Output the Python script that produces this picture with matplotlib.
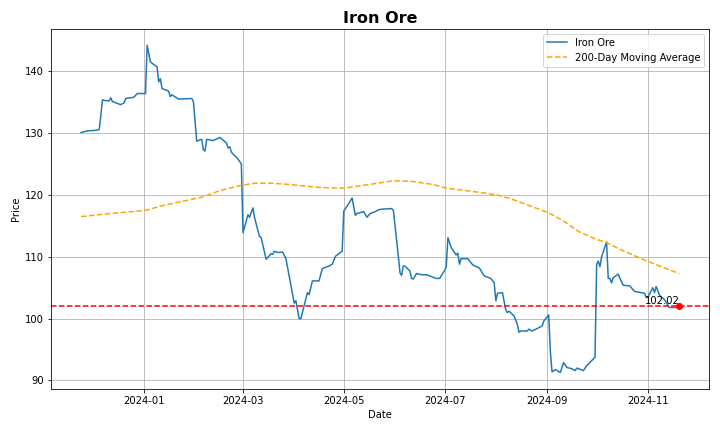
import pandas as pd
import matplotlib
matplotlib.use("Agg")
import matplotlib.pyplot as plt

# price points
price_dates = [
    "2023-11-24", "2023-11-27", "2023-11-29", "2023-12-01", "2023-12-04", "2023-12-05",
    "2023-12-06", "2023-12-07", "2023-12-08", "2023-12-11", "2023-12-12", "2023-12-13",
    "2023-12-15", "2023-12-18", "2023-12-20", "2023-12-21", "2023-12-26", "2023-12-28",
    "2024-01-02", "2024-01-03", "2024-01-05", "2024-01-09", "2024-01-10", "2024-01-11",
    "2024-01-12", "2024-01-16", "2024-01-17", "2024-01-18", "2024-01-22", "2024-01-30",
    "2024-01-31", "2024-02-02", "2024-02-05", "2024-02-06", "2024-02-07", "2024-02-08",
    "2024-02-12", "2024-02-16", "2024-02-20", "2024-02-21", "2024-02-22", "2024-02-23",
    "2024-02-27", "2024-02-29", "2024-03-01", "2024-03-04", "2024-03-05", "2024-03-07",
    "2024-03-08", "2024-03-11", "2024-03-12", "2024-03-15", "2024-03-18", "2024-03-19",
    "2024-03-20", "2024-03-22", "2024-03-25", "2024-03-27", "2024-04-01", "2024-04-02",
    "2024-04-04", "2024-04-05", "2024-04-09", "2024-04-10", "2024-04-12", "2024-04-16",
    "2024-04-18", "2024-04-22", "2024-04-24", "2024-04-26", "2024-04-30", "2024-05-01",
    "2024-05-03", "2024-05-06", "2024-05-08", "2024-05-09", "2024-05-13", "2024-05-15",
    "2024-05-17", "2024-05-20", "2024-05-22", "2024-05-24", "2024-05-30", "2024-05-31",
    "2024-06-03", "2024-06-04", "2024-06-05", "2024-06-06", "2024-06-07", "2024-06-10",
    "2024-06-11", "2024-06-12", "2024-06-14", "2024-06-17", "2024-06-20", "2024-06-24",
    "2024-06-26", "2024-06-28", "2024-07-01", "2024-07-02", "2024-07-03", "2024-07-05",
    "2024-07-08", "2024-07-09", "2024-07-10", "2024-07-11", "2024-07-15", "2024-07-18",
    "2024-07-22", "2024-07-25", "2024-07-29", "2024-07-31", "2024-08-01", "2024-08-02",
    "2024-08-05", "2024-08-07", "2024-08-08", "2024-08-09", "2024-08-12", "2024-08-14",
    "2024-08-15", "2024-08-16", "2024-08-20", "2024-08-21", "2024-08-23", "2024-08-29",
    "2024-08-30", "2024-09-02", "2024-09-03", "2024-09-04", "2024-09-06", "2024-09-09",
    "2024-09-11", "2024-09-13", "2024-09-16", "2024-09-18", "2024-09-19", "2024-09-23",
    "2024-09-25", "2024-09-30", "2024-10-01", "2024-10-02", "2024-10-03", "2024-10-04",
    "2024-10-07", "2024-10-08", "2024-10-09", "2024-10-10", "2024-10-11", "2024-10-14",
    "2024-10-17", "2024-10-21", "2024-10-24", "2024-10-30", "2024-10-31", "2024-11-01",
    "2024-11-04", "2024-11-05", "2024-11-06", "2024-11-08", "2024-11-11", "2024-11-14",
    "2024-11-18", "2024-11-19", "2024-11-20",
]
price_values = [
    130.1, 130.3, 130.4, 130.4, 130.5, 130.6,
    132.9, 135.4, 135.3, 135.2, 135.7, 135.1,
    134.9, 134.6, 134.9, 135.6, 135.8, 136.4,
    136.4, 144.2, 141.5, 140.7, 138.3, 138.8,
    137.2, 136.8, 135.9, 136.2, 135.5, 135.6,
    135.1, 128.7, 129.0, 127.3, 127.1, 129.0,
    128.8, 129.3, 128.4, 127.6, 127.8, 126.9,
    125.8, 125.0, 113.9, 116.8, 116.4, 117.9,
    116.3, 113.3, 113.1, 109.6, 110.5, 110.4,
    110.9, 110.7, 110.75, 109.7, 102.5, 102.9,
    100.0, 100.0, 104.2, 103.9, 106.1, 106.1,
    108.1, 108.5, 108.8, 110.1, 110.9, 117.4,
    118.2, 119.5, 116.7, 117.0, 117.3, 116.4,
    117.0, 117.3, 117.6, 117.7, 117.8, 117.5,
    110.1, 107.4, 107.0, 108.5, 108.5, 107.7,
    106.5, 106.4, 107.3, 107.1, 107.1, 106.7,
    106.5, 106.5, 107.8, 108.4, 113.1, 111.5,
    110.3, 110.6, 108.8, 109.7, 109.7, 108.7,
    108.2, 106.9, 106.5, 105.8, 102.9, 104.1,
    104.2, 101.4, 101.0, 101.2, 100.45, 99.1,
    97.8, 98.0, 98.0, 98.3, 98.0, 98.8,
    99.6, 100.6, 94.6, 91.4, 91.75, 91.3,
    92.9, 92.1, 91.9, 91.6, 92.0, 91.6,
    92.4, 93.75, 108.8, 109.3, 108.4, 110.0,
    112.4, 106.5, 106.5, 105.8, 106.6, 107.2,
    105.4, 105.3, 104.4, 104.1, 103.4, 103.5,
    105.0, 104.2, 105.2, 103.8, 103.1, 101.8,
    101.8, 102.0, 102.02,
]

# 200-day moving average
ma_dates = [
    "2023-11-24", "2023-12-12", "2024-01-02", "2024-01-11", "2024-01-25", "2024-02-06",
    "2024-02-16", "2024-02-28", "2024-03-08", "2024-03-18", "2024-03-29", "2024-04-09",
    "2024-04-17", "2024-05-01", "2024-05-14", "2024-05-24", "2024-05-31", "2024-06-11",
    "2024-06-24", "2024-07-02", "2024-07-17", "2024-08-02", "2024-08-12", "2024-08-22",
    "2024-09-02", "2024-09-11", "2024-09-20", "2024-09-30", "2024-10-07", "2024-10-16",
    "2024-10-28", "2024-11-08", "2024-11-20",
]
ma_values = [
    116.5, 117.0, 117.5, 118.2, 119.0, 119.7,
    120.7, 121.5, 121.9, 121.9, 121.7, 121.4,
    121.2, 121.1, 121.6, 122.0, 122.3, 122.2,
    121.7, 121.1, 120.6, 120.0, 119.2, 118.2,
    117.1, 115.8, 114.1, 112.9, 112.3, 111.1,
    109.7, 108.5, 107.3,
]

name = "Iron Ore"

price = pd.Series(price_values, index=pd.to_datetime(price_dates))
ma = pd.Series(ma_values, index=pd.to_datetime(ma_dates))
last_date = price.index[-1]
last_price = price.iloc[-1]

fig, ax = plt.subplots(figsize=(10, 6), dpi=72)
ax.plot(price.index, price.values, label=name)
ax.plot(ma.index, ma.values, color="orange", linestyle="--", label="200-Day Moving Average")
ax.axhline(last_price, color="red", linestyle="--")
ax.scatter([last_date], [last_price], color="red", zorder=5)
ax.text(last_date, last_price, f"{last_price:.2f}", ha="right", va="bottom", fontsize=10)

ax.set_title(name, fontsize=16, fontweight="bold")
ax.set_xlabel("Date")
ax.set_ylabel("Price")
ax.legend(loc="upper right")
ax.grid(True)

fig.subplots_adjust(left=0.071, right=0.985, top=0.933, bottom=0.1)
plt.savefig("out.png")
